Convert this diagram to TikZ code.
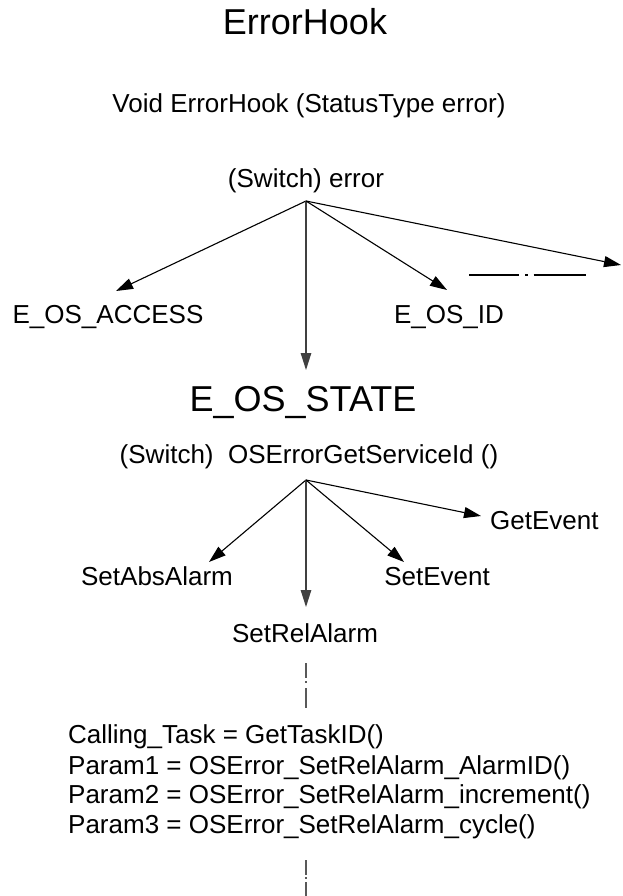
\documentclass[tikz,border=0pt]{standalone}
\usepackage{fontspec}
\setmainfont{Liberation Sans}
\usetikzlibrary{arrows.meta}
\begin{document}
\begin{tikzpicture}[x=1pt,y=-1pt,
  big/.style={font=\fontsize{36}{40}\selectfont, inner sep=0pt, anchor=base},
  txt/.style={font=\fontsize{26}{30}\selectfont, inner sep=0pt, anchor=base},
  code/.style={font=\fontsize{26}{30}\selectfont, inner sep=0pt, anchor=base west},
  arr/.style={line width=1.1pt, -{Triangle[length=17pt,width=11pt]}},
  varr/.style={line width=1.2pt, draw=black!75, -{Triangle[length=17pt,width=10.5pt]}},
  vdash/.style={line width=1.2pt, draw=black!65}
]
\useasboundingbox (0,0) rectangle (622,896);
\fill[white] (0,0) rectangle (622,896);

\node[big] (title) at (305,35) {ErrorHook};
\node[txt] (void) at (309,113) {Void ErrorHook (StatusType error)};
\node[txt] (sw1) at (306,188) {(Switch) error};

\coordinate (hub1) at (306,201);
\coordinate (tAcc) at (116,291);
\coordinate (tState) at (306,370);
\coordinate (tId) at (447,290);
\coordinate (tMore) at (621,265);
\draw[arr] (hub1) -- (tAcc);
\draw[varr] (hub1) -- (tState);
\draw[arr] (hub1) -- (tId);
\draw[arr] (hub1) -- (tMore);

\node[txt] (acc) at (108,323) {E\_OS\_ACCESS};
\node[txt] (id) at (449,323) {E\_OS\_ID};
\coordinate (dl) at (469,275);
\coordinate (dr) at (586,275);
\draw[line width=2.6pt, dash pattern=on 50pt off 6pt on 2.5pt off 6pt on 60pt] (dl) -- (dr);

\node[big] (state) at (303,411) {E\_OS\_STATE};
\node[txt] (sw2) at (309,463) {(Switch)\ \ OSErrorGetServiceId ()};

\coordinate (hub2) at (306,480);
\coordinate (tAbs) at (209,562);
\coordinate (tRel) at (306,607);
\coordinate (tSet) at (404,562);
\coordinate (tGet) at (481,516);
\draw[arr] (hub2) -- (tAbs);
\draw[varr] (hub2) -- (tRel);
\draw[arr] (hub2) -- (tSet);
\draw[arr] (hub2) -- (tGet);

\node[txt] (abs) at (157,585) {SetAbsAlarm};
\node[txt] (set) at (437,585) {SetEvent};
\node[txt, anchor=base west] (get) at (490,529) {GetEvent};
\node[txt] (rel) at (305,642) {SetRelAlarm};

\coordinate (v1a) at (306,663);
\coordinate (v1b) at (306,708);
\draw[vdash, dash pattern=on 15pt off 3pt on 2pt off 5pt on 30pt] (v1a) -- (v1b);

\node[code] (c1) at (68,743) {Calling\_Task = GetTaskID()};
\node[code] (c2) at (68,774) {Param1 = OSError\_SetRelAlarm\_AlarmID()};
\node[code] (c3) at (68,803) {Param2 = OSError\_SetRelAlarm\_increment()};
\node[code] (c4) at (68,833) {Param3 = OSError\_SetRelAlarm\_cycle()};

\coordinate (v2a) at (306,860);
\coordinate (v2b) at (306,896);
\draw[vdash, dash pattern=on 15pt off 2pt on 2pt off 3pt on 30pt] (v2a) -- (v2b);
\end{tikzpicture}
\end{document}
